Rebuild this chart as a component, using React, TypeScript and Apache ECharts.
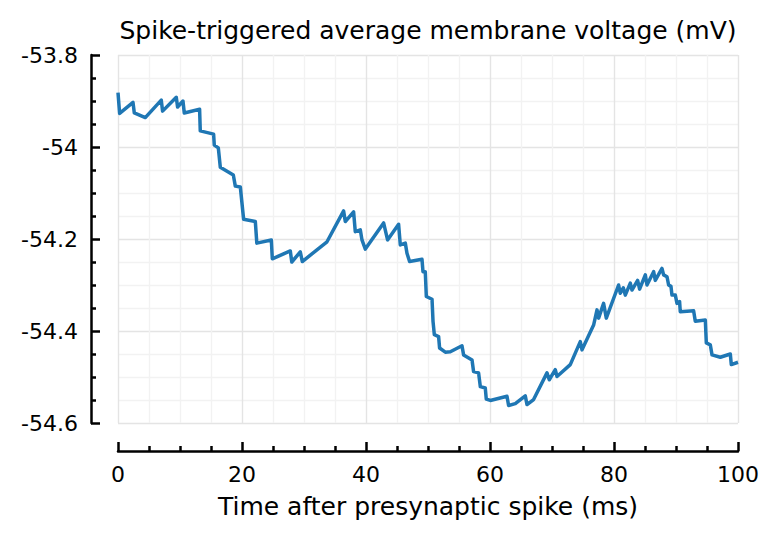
import React, { useEffect, useRef } from "react";
import * as echarts from "echarts";

const TITLE = "Spike-triggered average membrane voltage (mV)";
const X_LABEL = "Time after presynaptic spike (ms)";

const timeMs = [
  0.0, 0.26, 2.42, 2.63, 4.4, 6.98, 7.19, 9.4, 9.61, 10.48, 10.69, 13.16, 13.27, 15.42, 15.53,
  16.18, 16.5, 18.6, 18.92, 19.73, 20.26, 22.15, 22.39, 24.73, 24.89, 27.79, 28.03, 29.4, 29.73,
  33.71, 36.39, 36.66, 38.0, 38.27, 39.08, 39.35, 39.89, 42.84, 43.48, 45.26, 45.53, 46.34, 46.61,
  47.03, 49.03, 49.19, 49.56, 49.73, 50.65, 50.81, 51.02, 51.71, 51.87, 52.79, 53.6, 55.48, 55.74,
  57.1, 57.35, 58.16, 58.44, 59.24, 59.4, 60.05, 62.74, 63.0, 64.08, 65.69, 65.97, 67.03, 69.19,
  69.56, 70.53, 70.81, 72.95, 74.56, 74.84, 76.71, 77.26, 77.52, 78.32, 78.76, 80.74, 81.02, 81.5,
  81.82, 82.63, 82.9, 83.81, 84.13, 85.05, 85.32, 86.39, 86.66, 87.74, 88.0, 88.55, 88.81, 89.19,
  89.35, 89.89, 90.16, 90.58, 90.69, 92.84, 93.11, 94.73, 94.89, 95.53, 95.81, 97.15, 98.76, 98.92,
  100.0,
];

const voltageMv = [
  -53.882, -53.927, -53.903, -53.926, -53.936, -53.898, -53.922, -53.892, -53.913, -53.9, -53.926,
  -53.918, -53.965, -53.972, -53.996, -54.002, -54.044, -54.061, -54.085, -54.087, -54.157, -54.162,
  -54.209, -54.202, -54.243, -54.226, -54.25, -54.228, -54.249, -54.206, -54.139, -54.162, -54.141,
  -54.184, -54.18, -54.202, -54.222, -54.165, -54.202, -54.168, -54.213, -54.209, -54.231, -54.249,
  -54.244, -54.271, -54.271, -54.325, -54.331, -54.379, -54.408, -54.412, -54.437, -54.446, -54.445,
  -54.432, -54.452, -54.463, -54.488, -54.491, -54.521, -54.524, -54.548, -54.551, -54.542, -54.562,
  -54.558, -54.541, -54.56, -54.549, -54.491, -54.506, -54.484, -54.499, -54.473, -54.423, -54.441,
  -54.387, -54.354, -54.372, -54.34, -54.372, -54.3, -54.318, -54.306, -54.322, -54.296, -54.311,
  -54.29, -54.309, -54.278, -54.3, -54.271, -54.29, -54.264, -54.278, -54.282, -54.3, -54.303,
  -54.322, -54.322, -54.34, -54.336, -54.358, -54.356, -54.379, -54.376, -54.426, -54.43, -54.452,
  -54.457, -54.45, -54.473, -54.468,
];

const xTicks = [0, 20, 40, 60, 80, 100];
const yTicks = [-54.6, -54.4, -54.2, -54, -53.8];

export default function App() {
  const ref = useRef<HTMLDivElement>(null);

  useEffect(() => {
    if (!ref.current) return;
    const chart = echarts.init(ref.current, null, { renderer: "svg" });
    const font = "DejaVu Sans";
    const data = timeMs.map((t, i) => [t, voltageMv[i]]);
    chart.setOption({
      animation: false,
      backgroundColor: "#ffffff",
      title: {
        text: TITLE,
        left: 423,
        top: 13,
        textAlign: "center",
        textStyle: { fontFamily: font, fontSize: 25, fontWeight: "normal", color: "#000" },
      },
      grid: { left: 118, right: 41, top: 55, bottom: 117, containLabel: false },
      xAxis: {
        type: "value",
        min: xTicks[0],
        max: xTicks[xTicks.length - 1],
        interval: 20,
        offset: 28,
        name: X_LABEL,
        nameLocation: "middle",
        nameGap: 43,
        nameTextStyle: { fontFamily: font, fontSize: 25, color: "#000" },
        axisLine: { show: true, onZero: false, lineStyle: { color: "#000", width: 2.5 } },
        axisTick: { show: true, inside: true, length: 9, lineStyle: { color: "#000", width: 2.5 } },
        minorTick: { show: true, splitNumber: 4, length: 5, lineStyle: { color: "#000", width: 2.5 } },
        axisLabel: { fontFamily: font, fontSize: 22, color: "#000", margin: 12 },
        splitLine: { show: true, lineStyle: { color: "#e4e4e4", width: 1.4 } },
        minorSplitLine: { show: true, lineStyle: { color: "#f2f2f2", width: 1.4 } },
      },
      yAxis: {
        type: "value",
        min: yTicks[0],
        max: yTicks[yTicks.length - 1],
        interval: 0.2,
        offset: 27,
        axisLine: { show: true, onZero: false, lineStyle: { color: "#000", width: 2.5 } },
        axisTick: { show: true, inside: true, length: 9, lineStyle: { color: "#000", width: 2.5 } },
        minorTick: { show: true, splitNumber: 4, length: 5, lineStyle: { color: "#000", width: 2.5 } },
        axisLabel: {
          fontFamily: font,
          fontSize: 22,
          color: "#000",
          margin: 13,
          formatter: (v: number) => String(Math.round(v * 10) / 10),
        },
        splitLine: { show: true, lineStyle: { color: "#e4e4e4", width: 1.4 } },
        minorSplitLine: { show: true, lineStyle: { color: "#f2f2f2", width: 1.4 } },
      },
      series: [
        {
          type: "line",
          data,
          showSymbol: false,
          symbol: "none",
          clip: true,
          lineStyle: { color: "#1f77b4", width: 3.5, join: "round" },
        },
      ],
    });
    return () => chart.dispose();
  }, []);

  return (
    <div
      ref={ref}
      style={{ position: "fixed", left: 0, top: 0, width: 779, height: 540, background: "#fff" }}
    />
  );
}
